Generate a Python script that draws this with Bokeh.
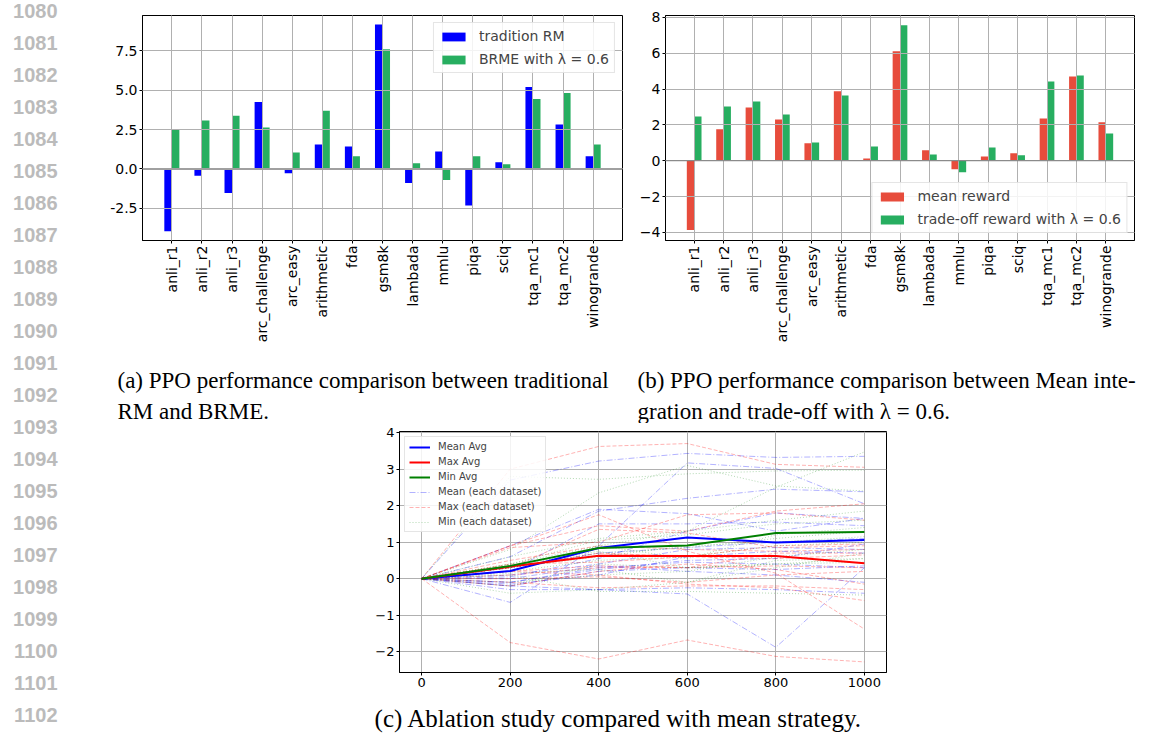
import math
import numpy as np
from bokeh.plotting import figure
from bokeh.layouts import row, column
from bokeh.models import (Range1d, FixedTicker, Span, Legend, LegendItem, Spacer,
                          CustomJSTickFormatter, NumeralTickFormatter)
from bokeh.core.properties import value
from bokeh.embed import file_html
from bokeh.resources import INLINE

# ---------------- data ----------------
datasets = ["anli_r1", "anli_r2", "anli_r3", "arc_challenge", "arc_easy", "arithmetic",
            "fda", "gsm8k", "lambada", "mmlu", "piqa", "sciq", "tqa_mc1", "tqa_mc2", "winogrande"]

tradition_rm = [-3.97, -0.44, -1.53, 4.26, -0.27, 1.55, 1.43, 9.18, -0.90, 1.11, -2.33, 0.42, 5.21, 2.82, 0.80]
brme_06 = [2.48, 3.07, 3.38, 2.63, 1.05, 3.70, 0.80, 7.60, 0.36, -0.71, 0.80, 0.29, 4.45, 4.83, 1.55]

mean_reward = [-3.87, 1.75, 2.97, 2.30, 0.97, 3.87, 0.13, 6.10, 0.58, -0.48, 0.24, 0.41, 2.36, 4.70, 2.14]
tradeoff_06 = [2.47, 3.03, 3.31, 2.58, 1.02, 3.64, 0.80, 7.55, 0.35, -0.65, 0.74, 0.30, 4.42, 4.76, 1.52]

steps = [0, 200, 400, 600, 800, 1000]
mean_avg = [0, 0.21, 0.84, 1.13, 0.99, 1.06]
max_avg = [0, 0.33, 0.63, 0.62, 0.62, 0.42]
min_avg = [0, 0.35, 0.84, 0.91, 1.25, 1.28]

mean_each = [
    [0, 2.70, 3.22, 3.43, 3.32, 3.35],
    [0, -0.65, 0.90, 3.17, 3.02, 2.05],
    [0, 0.60, 1.85, 2.20, 2.45, 2.38],
    [0, -0.20, -0.30, -0.42, -1.88, 0.30],
    [0, 0.90, 1.90, 1.78, 1.30, 1.65],
    [0, 0.20, 1.50, 1.50, 1.55, 1.45],
    [0, 0.10, 0.40, 0.80, 0.85, 0.80],
    [0, -0.10, 0.30, 0.45, 0.40, 0.30],
    [0, -0.30, -0.30, -0.25, -0.30, -0.40],
    [0, 0.00, 0.35, 0.20, 0.10, -0.10],
    [0, -0.20, 0.20, 0.30, 0.25, 0.35],
    [0, 0.30, 0.70, 0.85, 1.00, 1.10],
    [0, -0.15, 0.10, 0.60, 0.75, 0.70],
    [0, 0.05, 0.55, 1.30, 1.80, 1.65],
    [0, -0.10, 0.25, 0.50, 0.55, 0.95],
]
max_each = [
    [0, 3.00, 3.62, 3.70, 3.13, 3.05],
    [0, -1.75, -2.20, -1.68, -2.13, -2.28],
    [0, 0.90, 1.75, 0.75, 0.15, -1.38],
    [0, 0.90, 1.45, 1.30, 1.85, 2.05],
    [0, 0.85, 1.00, 1.75, 1.80, 1.60],
    [0, 0.30, 1.35, 1.25, 0.85, 0.90],
    [0, 0.50, 0.90, 0.80, 0.75, 0.80],
    [0, 0.10, 0.30, 0.30, 0.35, 0.30],
    [0, -0.10, -0.25, -0.20, -0.20, -0.30],
    [0, 0.20, 0.10, -0.15, -0.25, -0.60],
    [0, 0.40, 0.45, 0.60, 0.90, 0.95],
    [0, 0.00, 0.05, -0.10, 0.10, 0.20],
    [0, 0.30, 0.70, 0.60, 0.55, 0.65],
    [0, 0.20, 0.35, 0.30, 0.70, 0.70],
    [0, -0.20, 0.20, 0.40, 0.25, -0.15],
]
min_each = [
    [0, 2.80, 2.72, 2.87, 2.95, 2.97],
    [0, 0.80, 2.35, 3.10, 2.54, 2.40],
    [0, 0.40, 0.90, 1.30, 2.50, 3.47],
    [0, 0.60, 1.10, 1.30, 1.60, 1.85],
    [0, 0.40, 1.05, 1.20, 1.50, 1.60],
    [0, 0.30, 0.70, 0.85, 1.10, 1.30],
    [0, 0.20, 0.50, 0.60, 0.90, 1.00],
    [0, -0.40, -0.30, -0.10, 0.50, 0.55],
    [0, -0.20, 0.40, 0.30, 0.40, 0.45],
    [0, 0.10, -0.35, -0.35, -0.40, -0.45],
    [0, 0.15, 0.25, -0.10, 0.30, 0.70],
    [0, -0.10, 0.10, 0.20, 0.60, 0.80],
    [0, 0.30, 0.60, 0.90, 1.00, 1.15],
    [0, 0.20, 0.90, 0.55, 1.20, 1.40],
    [0, 0.35, 0.75, 0.30, 0.40, 0.55],
]

line_numbers = list(range(1080, 1103))
caption_a = ["(a) PPO performance comparison between traditional", "RM and BRME."]
caption_b = ["(b) PPO performance comparison between Mean inte-", "gration and trade-off with \u03bb = 0.6."]
caption_c = "(c) Ablation study compared with mean strategy."

FONT = "DejaVu Sans"
minus_fmt = CustomJSTickFormatter(code="return tick < 0 ? '\\u2212' + String(-tick) : String(tick);")


def style(p, fs, grid_level=None):
    for ax in (p.xaxis[0], p.yaxis[0]):
        ax.major_label_text_font = FONT
        ax.major_label_text_font_size = fs
        ax.major_label_text_color = "black"
        ax.axis_line_color = "black"
        ax.major_tick_line_color = "black"
        ax.major_tick_out = 3
        ax.major_tick_in = 0
        ax.minor_tick_line_color = None
        ax.major_label_standoff = 2
    p.outline_line_color = "black"
    p.outline_line_alpha = 1
    p.grid.grid_line_color = "#b0b0b0"
    p.grid.grid_line_width = 1
    if grid_level:
        p.xgrid.level = grid_level
        p.ygrid.level = grid_level
    p.background_fill_color = "white"
    p.border_fill_color = "white"


def style_legend(leg, fs, gw, gh, lh, sp, pad, standoff):
    leg.label_text_font = FONT
    leg.label_text_font_size = fs
    leg.glyph_width = gw
    leg.glyph_height = gh
    leg.label_height = lh
    leg.spacing = sp
    leg.padding = pad
    leg.label_standoff = standoff
    leg.border_line_color = "#cccccc"
    leg.border_line_width = 1
    leg.background_fill_alpha = 0.85


xa = np.arange(len(datasets))
cat_ticks = FixedTicker(ticks=list(range(len(datasets))))
cat_over = {i: name for i, name in enumerate(datasets)}

# ---------------- (a) ----------------
pa = figure(width=530, height=360, x_range=Range1d(-0.975, 14.975), y_range=Range1d(-4.55, 9.75),
            output_backend="svg", toolbar_location=None, title=None,
            min_border_left=42, min_border_right=8, min_border_top=12, min_border_bottom=120)
pa.vbar(x=xa - 0.125, top=tradition_rm, width=0.25, fill_color="#0000ff", line_color=None,
        legend_label="tradition RM")
pa.vbar(x=xa + 0.125, top=brme_06, width=0.25, fill_color="#27ae60", line_color=None,
        legend_label="BRME with \u03bb = 0.6")
pa.add_layout(Span(location=0, dimension="width", line_color="#a0a0a0", line_width=2))
style(pa, "14px", grid_level="guide")
pa.xaxis.ticker = cat_ticks
pa.xaxis.major_label_overrides = cat_over
pa.xaxis.major_label_orientation = math.pi / 2
pa.yaxis.ticker = FixedTicker(ticks=[-2.5, 0, 2.5, 5, 7.5])
pa.yaxis.formatter = NumeralTickFormatter(format="0.0")
pa.legend.location = "top_right"
pa.legend.margin = 7
style_legend(pa.legend[0], "14px", 29, 11, 14, 7, 5, 11)

# ---------------- (b) ----------------
pb = figure(width=523, height=360, x_range=Range1d(-0.975, 14.975), y_range=Range1d(-4.45, 8.1),
            output_backend="svg", toolbar_location=None, title=None,
            min_border_left=35, min_border_right=19, min_border_top=15, min_border_bottom=120)
pb.vbar(x=xa - 0.125, top=mean_reward, width=0.25, fill_color="#e74c3c", line_color=None,
        legend_label="mean reward")
pb.vbar(x=xa + 0.125, top=tradeoff_06, width=0.25, fill_color="#27ae60", line_color=None,
        legend_label="trade-off reward with \u03bb = 0.6")
pb.add_layout(Span(location=0, dimension="width", line_color="#808080", line_width=1))
style(pb, "14px", grid_level="guide")
pb.xaxis.ticker = cat_ticks
pb.xaxis.major_label_overrides = cat_over
pb.xaxis.major_label_orientation = math.pi / 2
pb.yaxis.ticker = FixedTicker(ticks=[-4, -2, 0, 2, 4, 6, 8])
pb.yaxis.formatter = minus_fmt
pb.legend.location = "bottom_right"
pb.legend.margin = 7
style_legend(pb.legend[0], "14px", 29, 11, 14, 7, 5, 11)

# ---------------- (c) ----------------
pc = figure(width=550, height=277, x_range=Range1d(-50, 1050), y_range=Range1d(-2.57, 4.03),
            output_backend="svg", toolbar_location=None, title=None,
            min_border_left=49, min_border_right=14, min_border_top=8, min_border_bottom=28)
r_me = pc.multi_line(xs=[steps] * len(mean_each), ys=mean_each, line_color="#0000ff", line_alpha=0.3,
                     line_width=1, line_dash="6 2 1 2")
r_mx = pc.multi_line(xs=[steps] * len(max_each), ys=max_each, line_color="#ff0000", line_alpha=0.3,
                     line_width=1, line_dash="4 2")
r_mn = pc.multi_line(xs=[steps] * len(min_each), ys=min_each, line_color="#008000", line_alpha=0.3,
                     line_width=1, line_dash="1 2")
r_ma = pc.line(steps, mean_avg, line_color="#0000ff", line_width=2)
r_xa = pc.line(steps, max_avg, line_color="#ff0000", line_width=2)
r_na = pc.line(steps, min_avg, line_color="#008000", line_width=2)
style(pc, "13px")
pc.xaxis.ticker = FixedTicker(ticks=steps)
pc.yaxis.ticker = FixedTicker(ticks=[-2, -1, 0, 1, 2, 3, 4])
pc.yaxis.formatter = minus_fmt
leg_c = Legend(items=[
    LegendItem(label="Mean Avg", renderers=[r_ma]),
    LegendItem(label="Max Avg", renderers=[r_xa]),
    LegendItem(label="Min Avg", renderers=[r_na]),
    LegendItem(label="Mean (each dataset)", renderers=[r_me]),
    LegendItem(label="Max (each dataset)", renderers=[r_mx]),
    LegendItem(label="Min (each dataset)", renderers=[r_mn]),
], location="top_left", margin=5)
style_legend(leg_c, "10px", 21, 8, 10, 4, 4, 8)
pc.add_layout(leg_c)

# ---------------- captions & line numbers ----------------
def blank(w, h, xr, yr):
    f = figure(width=w, height=h, x_range=Range1d(*xr), y_range=Range1d(*yr),
               x_axis_type=None, y_axis_type=None, output_backend="svg", toolbar_location=None,
               title=None, min_border=0)
    f.grid.visible = False
    f.outline_line_color = None
    f.background_fill_color = "white"
    f.border_fill_color = "white"
    return f

nums = blank(100, 733, (0, 100), (733, 0))
nums.text(x=[57] * len(line_numbers), y=[10 + 32 * i for i in range(len(line_numbers))],
          text=[str(n) for n in line_numbers], text_align="right", text_baseline="middle",
          text_font=value("Liberation Sans"), text_font_style="bold", text_font_size="20px",
          text_color="#bbbbbb")

cap = blank(1053, 63, (100, 1153), (423, 360))
cap.text(x=[117, 117, 637, 637], y=[380, 411, 380, 411],
         text=caption_a + caption_b, text_align="left", text_baseline="middle",
         text_font=value("Liberation Serif"), text_font_size="23px", text_color="black")

cap_c = blank(1053, 33, (100, 1153), (733, 700))
cap_c.text(x=[618], y=[718], text=[caption_c], text_align="center", text_baseline="middle",
           text_font=value("Liberation Serif"), text_font_size="25px", text_color="black")

right = column(row(pa, pb), cap, row(Spacer(width=250, height=277), pc), cap_c)
layout = row(nums, right)

open("out.html", "w").write(file_html(layout, INLINE))
